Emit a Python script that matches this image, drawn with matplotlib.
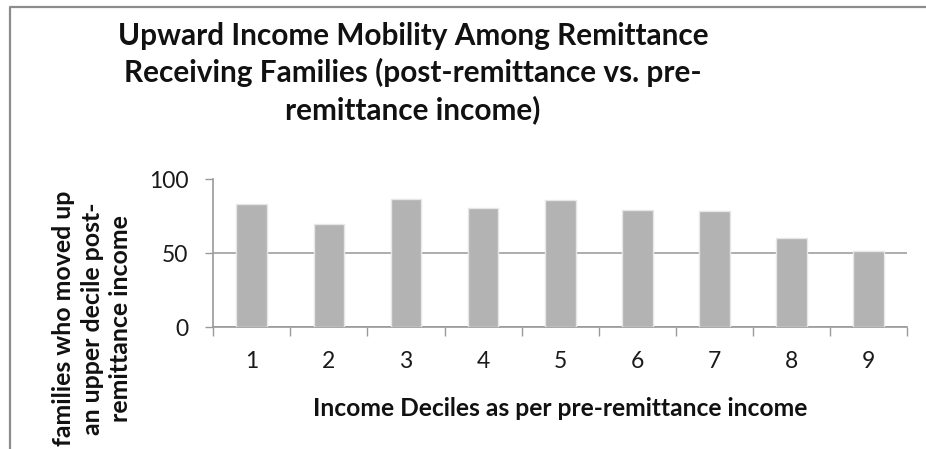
import matplotlib
matplotlib.use("Agg")
import matplotlib.pyplot as plt
from matplotlib.lines import Line2D

# ---- data ----
deciles = ["1", "2", "3", "4", "5", "6", "7", "8", "9"]
moved_up = [83.7, 70.1, 87.1, 81.0, 86.4, 79.4, 78.5, 60.2, 51.6]
y_ticks = [0, 50, 100]

title_text = ("Upward Income Mobility Among Remittance\n"
              "Receiving Families (post-remittance vs. pre-\n"
              "remittance income)")
xlabel_text = "Income Deciles as per pre-remittance income"
ylabel_text = ("families who moved up\n"
               "an upper decile post-\n"
               "remittance income")

FONT = "Lato"
W, H = 926, 449
fig = plt.figure(figsize=(W / 100, H / 100), dpi=100)

def fx(px):
    return px / W

def fy(py):
    return 1 - py / H

# chart-area border (top and left visible, rest cropped)
fig.add_artist(Line2D([fx(10), fx(10), 1.0], [0.0, fy(7), fy(7)],
                      transform=fig.transFigure, color="#8c8c8c", lw=1.6))

ax = fig.add_axes([fx(213.3), fy(327), fx(907) - fx(213.3), fy(179.5) - fy(327)])
x = list(range(1, len(deciles) + 1))
ax.bar(x, moved_up, width=0.4, color="#b3b3b3", edgecolor="#e6e6e6", linewidth=1.0, zorder=3)

ax.set_xlim(0.5, len(deciles) + 0.5)
ax.set_ylim(0, 100)
ax.set_yticks(y_ticks)
ax.set_yticklabels([str(v) for v in y_ticks], fontsize=16.5, family=FONT, color="#1a1a1a")
ax.set_xticks(x)
ax.set_xticklabels(deciles, fontsize=16.5, family=FONT, color="#1a1a1a")
ax.set_xticks([i + 0.5 for i in range(0, len(deciles) + 1)], minor=True)
ax.tick_params(axis="x", which="major", length=0, pad=17)
ax.tick_params(axis="x", which="minor", length=6.5, width=1.0, color="#9a9a9a")
ax.tick_params(axis="y", which="major", length=6, width=1.0, color="#9a9a9a", pad=12)

ax.grid(axis="y", color="#9f9f9f", linewidth=1.2, zorder=0)
for s in ["top", "right"]:
    ax.spines[s].set_visible(False)
for s in ["left", "bottom"]:
    ax.spines[s].set_color("#9a9a9a")
    ax.spines[s].set_linewidth(1.2)

fig.text(fx(413), fy(73), title_text, ha="center", va="center", multialignment="center",
         fontsize=21.4, fontweight="bold", family=FONT, linespacing=1.32, color="#111111")
fig.text(fx(560), fy(408), xlabel_text, ha="center", va="center",
         fontsize=17.7, fontweight="bold", family=FONT, color="#111111")
fig.text(fx(92), fy(191), ylabel_text, ha="center", va="top", rotation=90,
         multialignment="center", rotation_mode="default",
         fontsize=17.9, fontweight="bold", family=FONT, linespacing=1.28, color="#111111")

fig.savefig("out.png", dpi=100)
